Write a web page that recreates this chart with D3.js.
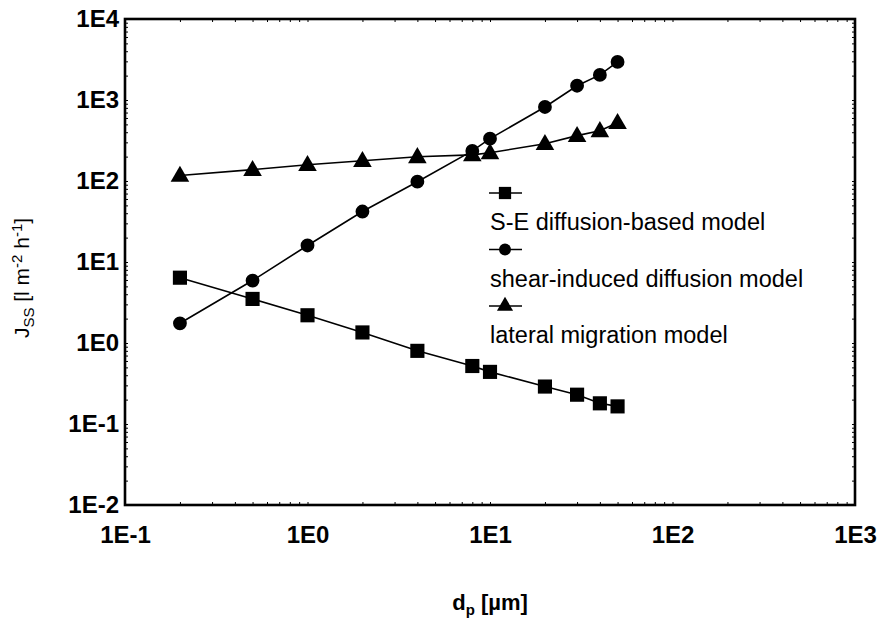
<!DOCTYPE html>
<html>
<head>
<meta charset="utf-8">
<script src="https://cdn.jsdelivr.net/npm/d3@7"></script>
<style>
body { margin: 0; background: #fff; }
text { font-family: "Liberation Sans", Arial, sans-serif; }
</style>
</head>
<body>
<script>
// particle diameters (um)
let dp = [0.2, 0.5, 1, 2, 4, 8, 10, 20, 30, 40, 50];
let seModel = [6.4, 3.5, 2.2, 1.35, 0.8, 0.52, 0.44, 0.29, 0.23, 0.18, 0.165];
let shearModel = [1.75, 5.9, 16, 42, 98, 235, 333, 820, 1500, 2040, 2950];
let lateralModel = [117, 138, 159, 178, 199, 210, 223, 289, 363, 417, 525];
let seriesNames = ["S-E diffusion-based model", "shear-induced diffusion model", "lateral migration model"];
let xTicks = [0.1, 1, 10, 100, 1000];
let yTicks = [0.01, 0.1, 1, 10, 100, 1000, 10000];

var margin = {top: 19, right: 26, bottom: 116, left: 125},
    width = 881 - margin.left - margin.right,
    height = 621 - margin.top - margin.bottom;

var svg = d3.select("body").append("svg")
	.attr("width", 881)
	.attr("height", 621)

var g = svg.append("g")
	.attr("transform", "translate(" + margin.left + "," + margin.top + ")")

let x = d3.scaleLog().domain([0.1, 1000]).range([0, width]);
let y = d3.scaleLog().domain([0.01, 10000]).range([height, 0]);

function expLabel(v) {
	return "1E" + Math.round(Math.log10(v))
}

// minor ticks, inward, on all sides
let xMinor = [];
for (let e = -1; e < 3; e++) for (let k = 1; k < 10; k++) xMinor.push(k * Math.pow(10, e));
xMinor.push(1000);
let yMinor = [];
for (let e = -2; e < 4; e++) for (let k = 1; k < 10; k++) yMinor.push(k * Math.pow(10, e));
yMinor.push(10000);

g.append("g").attr("transform", "translate(0," + height + ")")
	.call(d3.axisTop(x).tickValues(xMinor).tickSize(3).tickFormat(""))
g.append("g")
	.call(d3.axisBottom(x).tickValues(xMinor).tickSize(3).tickFormat(""))
g.append("g")
	.call(d3.axisRight(y).tickValues(yMinor).tickSize(3).tickFormat(""))
g.append("g").attr("transform", "translate(" + width + ",0)")
	.call(d3.axisLeft(y).tickValues(yMinor).tickSize(3).tickFormat(""))
g.selectAll(".domain").remove()
g.selectAll(".tick line").attr("stroke", "#000").attr("stroke-width", 1)

// labels
let xAxis = g.append("g").attr("transform", "translate(0," + height + ")")
	.call(d3.axisBottom(x).tickValues(xTicks).tickSize(0).tickPadding(21).tickFormat(expLabel))
let yAxis = g.append("g")
	.call(d3.axisLeft(y).tickValues(yTicks).tickSize(0).tickPadding(6).tickFormat(expLabel))
xAxis.select(".domain").remove()
yAxis.select(".domain").remove()
svg.selectAll(".tick text")
	.style("font-size", "24px")
	.style("font-weight", "bold")
	.attr("fill", "#000")

// frame
g.append("rect")
	.attr("width", width)
	.attr("height", height)
	.attr("fill", "none")
	.attr("stroke", "#000")
	.attr("stroke-width", 2.6)

let line = d3.line()
	.x(d => x(d[0]))
	.y(d => y(d[1]))

let series = [seModel, shearModel, lateralModel];
let symbols = [d3.symbolSquare, d3.symbolCircle, d3.symbolTriangle];
let symSizes = [200, 150, 150];

series.forEach((s, i) => {
	let pts = dp.map((d, j) => [d, s[j]]);
	g.append("path")
		.attr("d", line(pts))
		.attr("fill", "none")
		.attr("stroke", "#000")
		.attr("stroke-width", 1.6)
	g.selectAll(".m" + i)
		.data(pts)
		.join("path")
			.attr("class", "m" + i)
			.attr("transform", d => "translate(" + x(d[0]) + "," + (y(d[1]) + (i == 2 ? 1 : 0)) + ")")
			.attr("d", d3.symbol().type(symbols[i]).size(symSizes[i]))
			.attr("fill", "#000")
})

// legend
let legend = svg.append("g")
series.forEach((s, i) => {
	let ly = 193 + i * 56.5;
	legend.append("line")
		.attr("x1", 489).attr("x2", 522)
		.attr("y1", ly).attr("y2", ly)
		.attr("stroke", "#000")
		.attr("stroke-width", 1.6)
	legend.append("path")
		.attr("transform", "translate(505," + ly + ")")
		.attr("d", d3.symbol().type(symbols[i]).size(symSizes[i] * 0.75))
		.attr("fill", "#000")
	legend.append("text")
		.attr("x", 490)
		.attr("y", ly + 37)
		.style("font-size", "23.5px")
		.text(seriesNames[i])
})

// axis titles
let xt = svg.append("text")
	.attr("x", 490)
	.attr("y", 610)
	.attr("text-anchor", "middle")
	.style("font-size", "22px")
	.style("font-weight", "bold")
xt.append("tspan").text("d")
xt.append("tspan").attr("dy", 5).style("font-size", "15px").text("p")
xt.append("tspan").attr("dy", -5).text(" [\u00b5m]")

let yt = svg.append("text")
	.attr("transform", "translate(29,278) rotate(-90)")
	.attr("text-anchor", "middle")
	.style("font-size", "21px")
yt.append("tspan").text("J")
yt.append("tspan").attr("dy", 5).style("font-size", "15px").text("SS")
yt.append("tspan").attr("dy", -5).text(" [l m")
yt.append("tspan").attr("dy", -7).style("font-size", "15px").text("-2")
yt.append("tspan").attr("dy", 7).text(" h")
yt.append("tspan").attr("dy", -7).style("font-size", "15px").text("-1")
yt.append("tspan").attr("dy", 7).text("]")
</script>
</body>
</html>
